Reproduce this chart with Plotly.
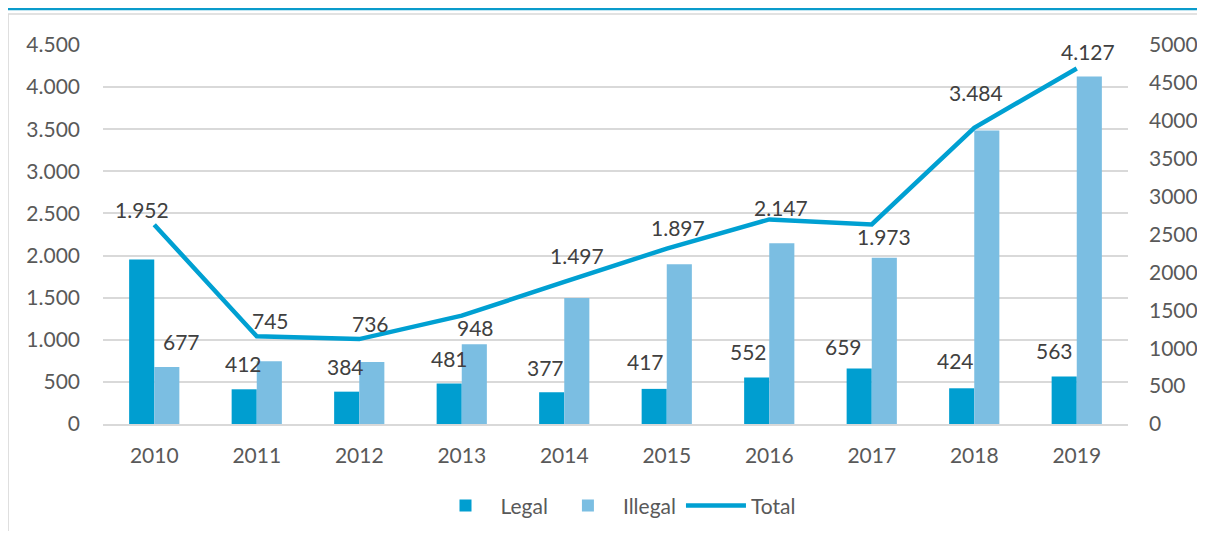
import plotly.graph_objects as go

years = ["2010", "2011", "2012", "2013", "2014", "2015", "2016", "2017", "2018", "2019"]
legal = [1952, 412, 384, 481, 377, 417, 552, 659, 424, 563]
illegal = [677, 745, 736, 948, 1497, 1897, 2147, 1973, 3484, 4127]
total = [l + i for l, i in zip(legal, illegal)]

left_ticks = [0, 500, 1000, 1500, 2000, 2500, 3000, 3500, 4000, 4500]
right_ticks = [0, 500, 1000, 1500, 2000, 2500, 3000, 3500, 4000, 4500, 5000]

# label nudges (px) copied from where the labels sit in the original
legal_shift = [(0, 50), (-1, 26), (-1, 25), (0, 25), (-6, 25), (-9, 27), (-8, 26), (-16, 22), (-6, 28), (-10, 26)]
illegal_shift = [(15, 25), (1, 41), (-1, 39), (1, 17), (0, 42), (-1, 37), (-1, 36), (0, 21), (-11, 38), (-1, 25)]

LEGAL_C = "#009ED0"
ILLEGAL_C = "#7BBEE2"
LINE_C = "#00A0D2"
FONT = "Lato, Carlito, 'Open Sans', sans-serif"


def fmt(v):
    return f"{v:,}".replace(",", ".")


fig = go.Figure()
fig.add_trace(go.Bar(x=years, y=legal, name="Legal", marker_color=LEGAL_C, marker_line_width=0))
fig.add_trace(go.Bar(x=years, y=illegal, name="Illegal", marker_color=ILLEGAL_C, marker_line_width=0))
fig.add_trace(go.Scatter(x=years, y=total, name="Total", mode="lines", yaxis="y2",
                         line=dict(color=LINE_C, width=4.5)))

# annotations use the category index, otherwise "2010" is read as a number
for k in range(len(years)):
    for val, (dx, dy), off in ((legal[k], legal_shift[k], -12.5), (illegal[k], illegal_shift[k], 12.5)):
        fig.add_annotation(x=k, y=val, xref="x", yref="y", text=fmt(val), showarrow=False,
                           xshift=off + dx, yshift=dy, yanchor="middle",
                           font=dict(family=FONT, size=21, color="#404040"))

# decorative frame: blue rule on top, grey box around the chart
fig.add_shape(type="line", xref="paper", yref="paper", x0=-0.11, x1=1.1, y0=1.096, y1=1.096,
              line=dict(color="#0A9BCB", width=3.5))
fig.add_shape(type="rect", xref="paper", yref="paper", x0=-0.0926, x1=1.2, y0=-0.4, y1=1.082,
              line=dict(color="#D9D9D9", width=1.5))

# page body keeps an 8px margin, so the figure is made smaller to avoid scrollbars
fig.update_layout(
    width=1189, height=523,
    margin=dict(l=95, r=69, t=37, b=107, autoexpand=False),
    paper_bgcolor="white", plot_bgcolor="white",
    barmode="group", bargap=0.51, bargroupgap=0,
    font=dict(family=FONT, size=21, color="#595959"),
    showlegend=True,
    legend=dict(orientation="h", x=0.5, xanchor="center", yref="container", y=0.048, yanchor="middle",
                font=dict(size=21, color="#595959"), itemwidth=60, traceorder="normal"),
    xaxis=dict(type="category", range=[-0.5, len(years) - 0.5], showgrid=False, showline=True,
               linecolor="#D9D9D9", linewidth=1.5, automargin=False,
               ticks="", ticklabelstandoff=12, tickfont=dict(size=21, color="#595959")),
    yaxis=dict(range=[0, 4500], tickvals=left_ticks, ticktext=[fmt(v) for v in left_ticks],
               showgrid=True, gridcolor="#D9D9D9", gridwidth=1.5, zeroline=False, automargin=False,
               showline=False, ticks="", ticklabelstandoff=22),
    yaxis2=dict(range=[0, 5000], tickvals=right_ticks, ticktext=[str(v) for v in right_ticks],
                overlaying="y", side="right", showgrid=False, zeroline=False, automargin=False,
                showline=False, ticks="", ticklabelstandoff=20),
)

fig.write_html("out.html")
